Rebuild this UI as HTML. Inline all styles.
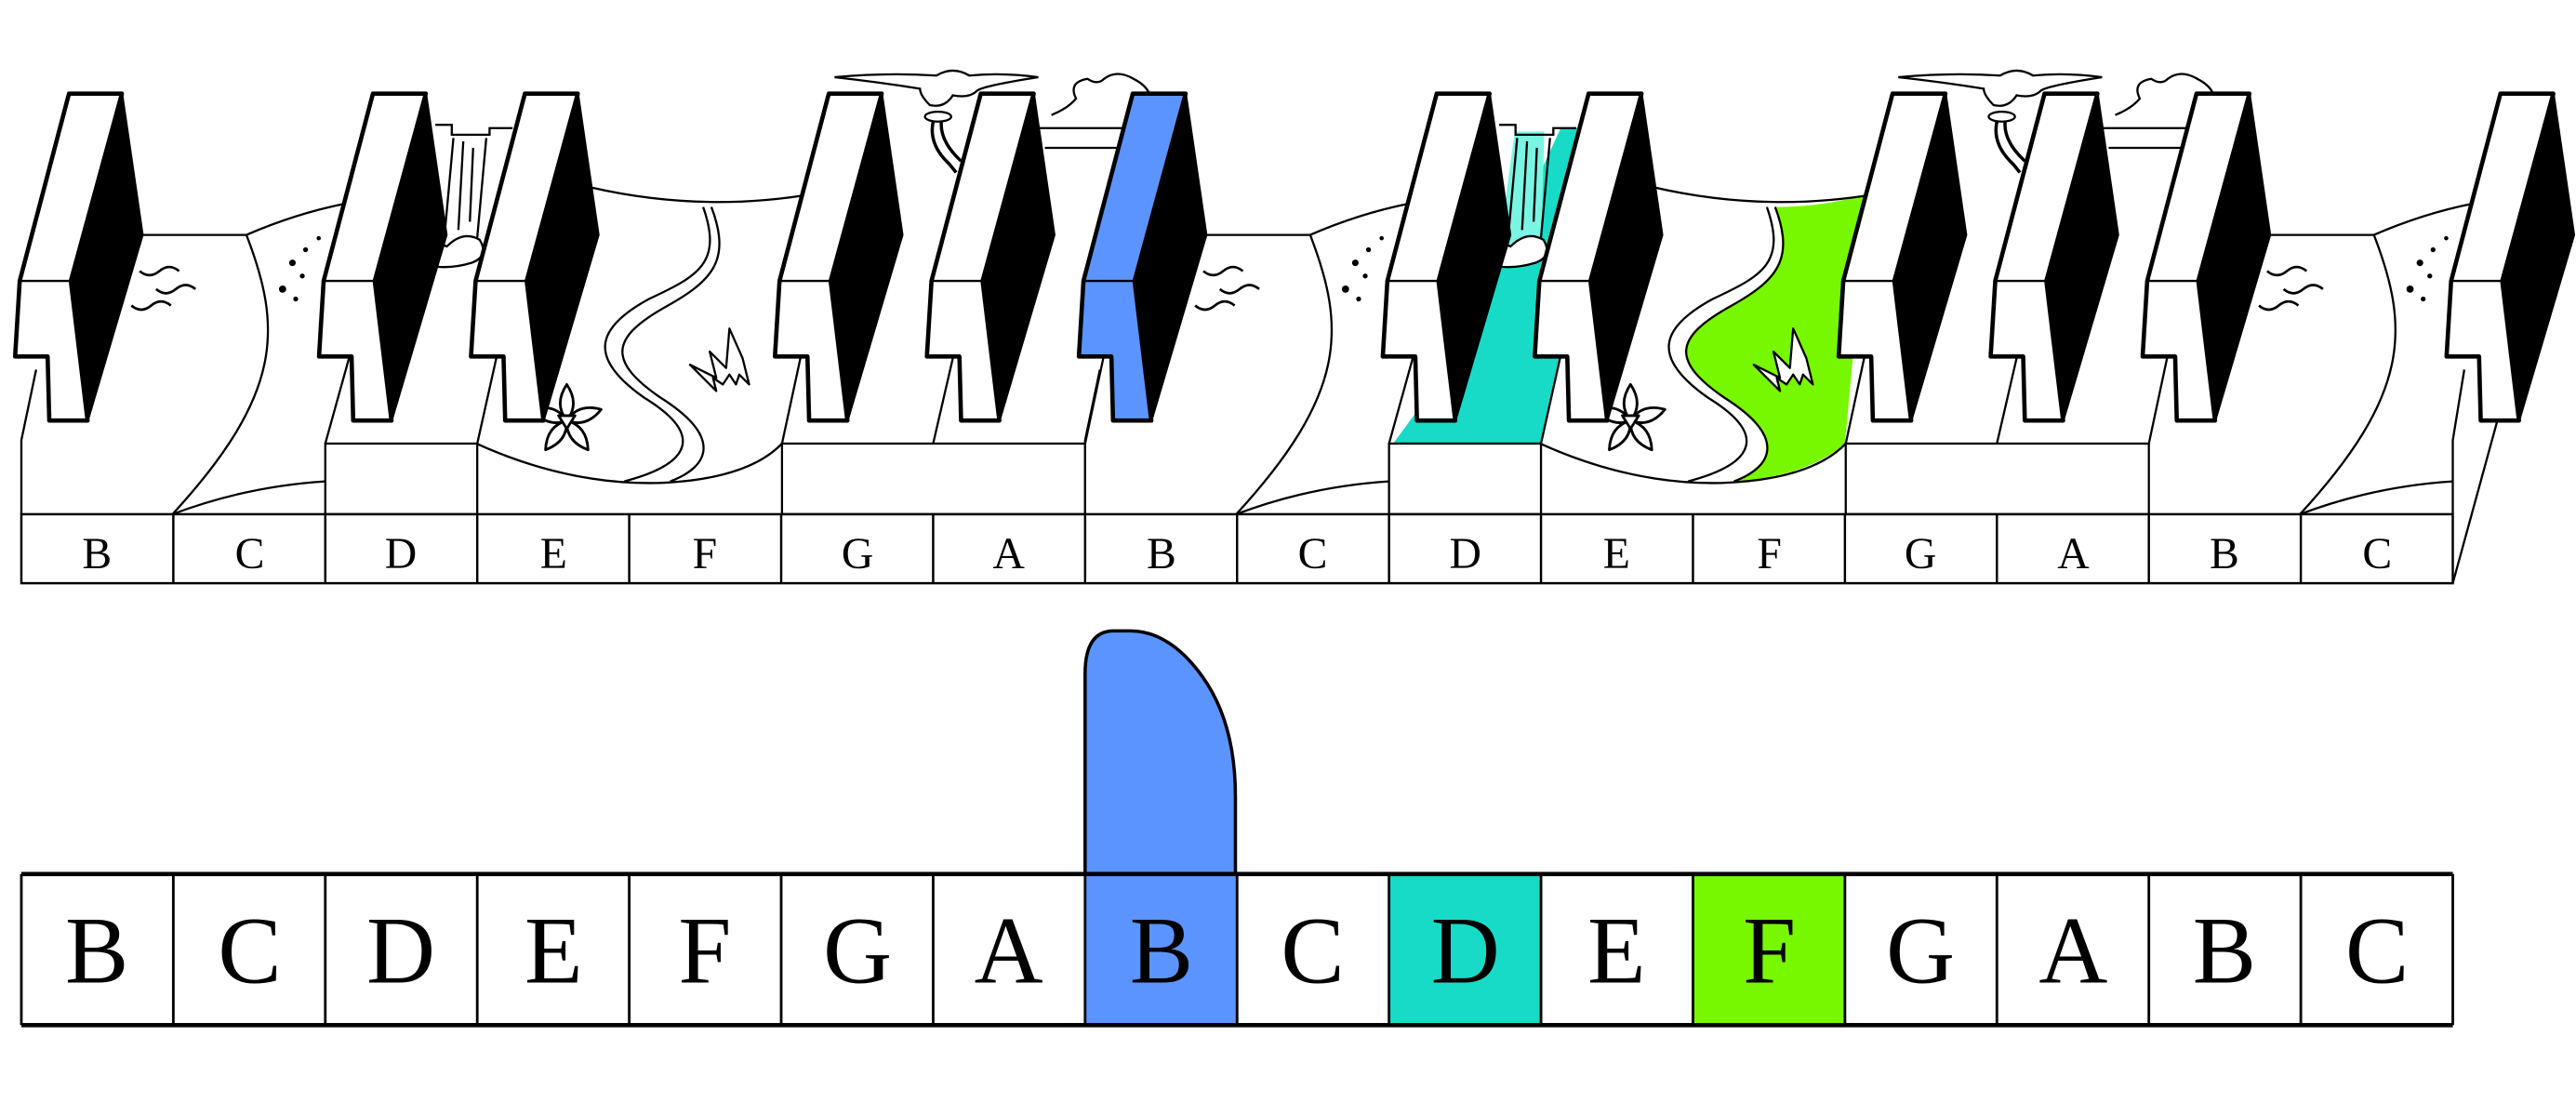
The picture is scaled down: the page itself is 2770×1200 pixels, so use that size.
<!DOCTYPE html>
<html><head><meta charset="utf-8"><style>
html,body{margin:0;padding:0;background:#fff;}
svg{display:block;}
text{font-family:"Liberation Serif",serif;}
</style></head><body>
<svg width="2770" height="1200" viewBox="0 0 1568 679.3" preserveAspectRatio="none" xmlns="http://www.w3.org/2000/svg">
<defs>
<g id="keyw">
<path d="M29,57 L61.2,57 L30.1,171 L40.3,256 L17,256 L16,217 L-3.8,217 L-1,171 Z" fill="#fff" stroke="#000" stroke-width="2.6" stroke-linejoin="round"/>
<path d="M61.2,57 L73.7,143 L40.3,256 L30.1,171 Z" fill="#000" stroke="#000" stroke-width="1.5" stroke-linejoin="round"/>
<path d="M-1,171 L30.1,171" stroke="#000" stroke-width="1.4"/>
</g>
<g id="keyb">
<path d="M29,57 L61.2,57 L30.1,171 L40.3,256 L17,256 L16,217 L-3.8,217 L-1,171 Z" fill="#5b94fe" stroke="#000" stroke-width="2.6" stroke-linejoin="round"/>
<path d="M61.2,57 L73.7,143 L40.3,256 L30.1,171 Z" fill="#000" stroke="#000" stroke-width="1.5" stroke-linejoin="round"/>
<path d="M-1,171 L30.1,171" stroke="#000" stroke-width="1.4"/>
</g>
<g id="flower" fill="#fff" stroke="#000" stroke-width="1.6" stroke-linejoin="round">
<path id="petal" d="M0,0 Q-8,-10 0,-22 Q8,-10 0,0 Z"/>
<use href="#petal" transform="rotate(72)"/>
<use href="#petal" transform="rotate(144)"/>
<use href="#petal" transform="rotate(216)"/>
<use href="#petal" transform="rotate(288)"/>
<path d="M-5,-3 L5,-3 L0,5 Z"/>
</g>
<g id="grass" fill="#fff" stroke="#000" stroke-width="1.3" stroke-linejoin="round">
<path d="M-18,0 L-2,8 L-6,-8 L4,2 L6,-22 L14,-4 L18,12 L12,6 L10,12 L6,6 L2,12 L-4,8 L-2,16 Z"/>
</g>
<g id="groupbg" fill="none" stroke="#000" stroke-width="1.3">
<path d="M74,143 L150,143"/>
<path d="M150,143 C172,200 172,240 105,313"/>
<path d="M150,143 Q180,130 210,124"/>
<path d="M105,313 Q150,296 198,293"/>
<path d="M13,313 L13,268 L22,225"/>
<path d="M85,165 q6,5 12,0 t12,0" stroke-width="1.5"/>
<path d="M95,176 q6,5 12,0 t12,0" stroke-width="1.5"/>
<path d="M80,186 q6,5 12,0 t12,0" stroke-width="1.5"/>
<rect x="198" y="270" width="92.5" height="43" fill="#fff"/>
<path d="M198,270 L213,216"/>
<path d="M290.5,270 L305,205"/>
<path d="M265,76 L275,76 L275,82 L298,82 L298,78 L312,78"/>
<path d="M276,84 L270,150 M296,84 L290,150 M282,86 L279,140 M288,90 L286,135"/>
<path d="M252,158 q10,-12 20,-8 q10,-10 20,-4 q6,10 -5,14 q-20,6 -35,-2 Z" fill="#fff"/>
<path d="M355,113 Q425,130 495,118"/>
<path d="M428,126 C440,160 425,168 395,182 C362,200 358,218 392,242 C428,264 422,282 380,293"/>
<path d="M433,126 C446,160 432,172 403,188 C372,206 370,220 402,242 C440,266 432,284 408,293"/>
<path d="M290,270 Q345,295 400,294 Q455,292 476,270"/>
<path d="M476,270 L490,205"/>
<rect x="476" y="270" width="184.5" height="43" fill="#fff"/>
<path d="M568,270 L580,218"/>
<path d="M660.5,270 L672,216"/>
<path d="M632,78 L690,78 M636,90 L688,90"/>
</g>
<g id="tree" fill="#fff" stroke="#000" stroke-width="1.3">
<path d="M508,47 Q540,44 570,46 Q580,40 590,46 Q610,44 632,47 Q600,52 595,55 Q590,60 580,58 Q575,66 566,64 Q560,58 560,54 Q535,50 508,47 Z"/>
<ellipse cx="571" cy="71" rx="8" ry="3"/>
<path d="M568,74 Q565,88 578,100 L582,105 M573,74 Q572,86 585,98" fill="none" stroke-width="2"/>
<path d="M640,70 Q650,66 655,60 Q650,50 662,48 Q668,52 672,48 Q680,42 690,48 Q698,52 700,58" />
</g>
</defs>

<path d="M848,270 L938,270 L960,171 L985,78 L950,78 L920,143 L870,240 Z" fill="#17dbc6"/>
<path d="M922,80 L940,80 L938,155 L912,155 Z" fill="#7af5e4"/>
<path d="M1080.5,126 Q1110,126 1137,118 L1123,270 Q1100,290 1055.5,293 C1079.5,284 1087.5,266 1049.5,242 C1017.5,220 1019.5,206 1050.5,188 C1079.5,172 1093.5,160 1080.5,126 Z" fill="#77f700"/>

<use href="#groupbg" x="0"/>
<use href="#groupbg" x="647.5"/>
<g fill="none" stroke="#000" stroke-width="1.3">
<path d="M1369,143 L1445,143"/>
<path d="M1445,143 C1467,200 1467,240 1400,313"/>
<path d="M1445,143 Q1475,130 1505,124"/>
<path d="M1400,313 Q1445,296 1493,293"/>
<path d="M1493,313 L1493,268 L1500,225"/>
<path d="M1380,165 q6,5 12,0 t12,0" stroke-width="1.5"/>
<path d="M1390,176 q6,5 12,0 t12,0" stroke-width="1.5"/>
<path d="M1375,186 q6,5 12,0 t12,0" stroke-width="1.5"/>
<path d="M1493,355 L1530,220"/>
</g>
<g fill="#000">
<circle cx="178" cy="160" r="2"/><circle cx="186" cy="152" r="1.5"/><circle cx="184" cy="168" r="1.5"/><circle cx="172" cy="176" r="2.2"/><circle cx="180" cy="182" r="1.5"/><circle cx="194" cy="145" r="1.3"/>
<circle cx="825" cy="160" r="2"/><circle cx="833" cy="152" r="1.5"/><circle cx="831" cy="168" r="1.5"/><circle cx="819" cy="176" r="2.2"/><circle cx="827" cy="182" r="1.5"/><circle cx="841" cy="145" r="1.3"/>
<circle cx="1473" cy="160" r="2"/><circle cx="1481" cy="152" r="1.5"/><circle cx="1479" cy="168" r="1.5"/><circle cx="1467" cy="176" r="2.2"/><circle cx="1475" cy="182" r="1.5"/><circle cx="1489" cy="145" r="1.3"/>
</g>
<use href="#tree" x="0"/>
<use href="#tree" x="647.5"/>
<use href="#flower" x="345" y="256"/>
<use href="#flower" x="992.5" y="256"/>
<use href="#grass" x="438" y="222"/>
<use href="#grass" x="1085.5" y="222"/>

<g stroke="#000" stroke-width="1.4" fill="none">
<rect x="13" y="313" width="1480" height="42"/>
<path d="M105.5,313V355 M198,313V355 M290.5,313V355 M383,313V355 M475.5,313V355 M568,313V355 M660.5,313V355 M753,313V355 M845.5,313V355 M938,313V355 M1030.5,313V355 M1123,313V355 M1215.5,313V355 M1308,313V355 M1400.5,313V355"/>
</g>
<g font-size="27" text-anchor="middle">
<text x="59" y="346">B</text><text x="152" y="346">C</text><text x="244" y="346">D</text><text x="337" y="346">E</text><text x="429" y="346">F</text><text x="522" y="346">G</text><text x="614" y="346">A</text><text x="707" y="346">B</text><text x="799" y="346">C</text><text x="892" y="346">D</text><text x="984" y="346">E</text><text x="1077" y="346">F</text><text x="1169" y="346">G</text><text x="1262" y="346">A</text><text x="1354" y="346">B</text><text x="1447" y="346">C</text>
</g>

<use href="#keyw" x="13"/>
<use href="#keyw" x="198"/>
<use href="#keyw" x="290.5"/>
<use href="#keyw" x="475.5"/>
<use href="#keyw" x="568"/>
<use href="#keyb" x="660.5"/>
<use href="#keyw" x="845.5"/>
<use href="#keyw" x="938"/>
<use href="#keyw" x="1123"/>
<use href="#keyw" x="1215.5"/>
<use href="#keyw" x="1308"/>
<use href="#keyw" x="1493"/>

<path d="M660.5,532 V410 Q660.5,384 678,384 H688 Q712,384 732,412 Q752,440 752,485 V532 Z" fill="#5b94fe" stroke="#000" stroke-width="2"/>
<rect x="660.5" y="532" width="92.5" height="92" fill="#5b94fe"/>
<rect x="845.5" y="532" width="92.5" height="92" fill="#17dbc6"/>
<rect x="1030.5" y="532" width="92.5" height="92" fill="#77f700"/>
<g stroke="#000" fill="none">
<path d="M13,532 H1493 M13,624 H1493" stroke-width="2.6"/>
<path d="M13,532V624 M105.5,532V624 M198,532V624 M290.5,532V624 M383,532V624 M475.5,532V624 M568,532V624 M660.5,532V624 M753,532V624 M845.5,532V624 M938,532V624 M1030.5,532V624 M1123,532V624 M1215.5,532V624 M1308,532V624 M1400.5,532V624 M1493,532V624" stroke-width="1.6"/>
</g>
<g font-size="58" text-anchor="middle">
<text x="59" y="598">B</text><text x="152" y="598">C</text><text x="244" y="598">D</text><text x="337" y="598">E</text><text x="429" y="598">F</text><text x="522" y="598">G</text><text x="614" y="598">A</text><text x="707" y="598">B</text><text x="799" y="598">C</text><text x="892" y="598">D</text><text x="984" y="598">E</text><text x="1077" y="598">F</text><text x="1169" y="598">G</text><text x="1262" y="598">A</text><text x="1354" y="598">B</text><text x="1447" y="598">C</text>
</g>
</svg>
</body></html>
